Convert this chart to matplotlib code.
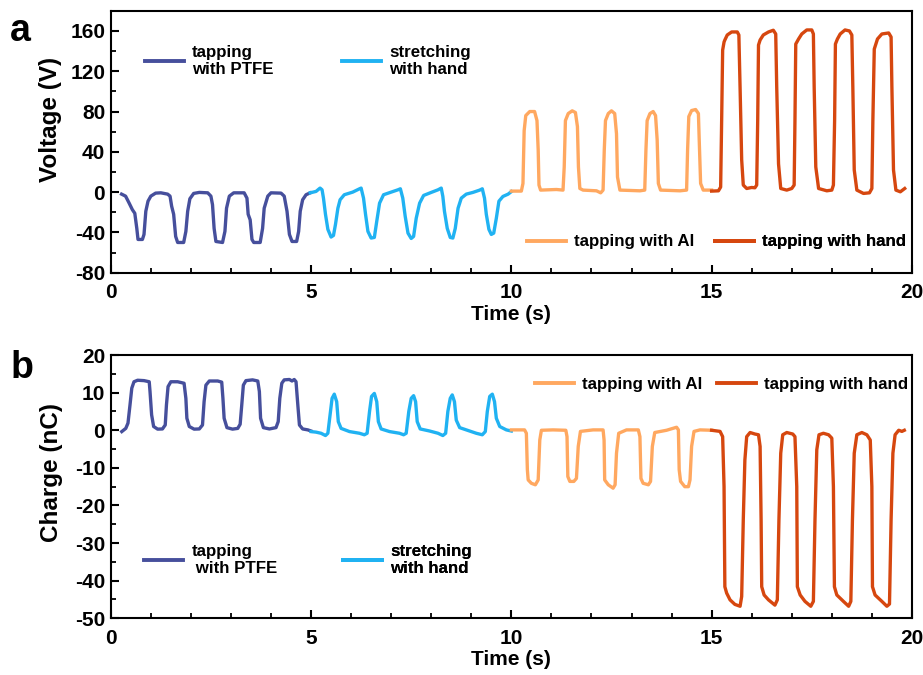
import matplotlib

matplotlib.use("Agg")
import matplotlib.pyplot as plt
from matplotlib.lines import Line2D
from matplotlib.ticker import MultipleLocator

plt.rcParams["font.family"] = ["Liberation Sans", "DejaVu Sans"]
plt.rcParams["font.weight"] = "bold"
plt.rcParams["axes.unicode_minus"] = False

# ---- colours / labels ----------------------------------------------------
c_ptfe = "#464f9c"
c_stretch = "#20b2f2"
c_al = "#ffa860"
c_hand = "#d6470f"

lab_ptfe = "tapping\nwith PTFE"
lab_ptfe_b = "tapping\n with PTFE"
lab_stretch = "stretching\nwith hand"
lab_al = "tapping with Al"
lab_hand = "tapping with hand"

# ---- (a) voltage ----------------------------------------------------------
ptfe_v_t = [0.27, 0.37, 0.46, 0.54, 0.6, 0.65, 0.68, 0.79, 0.83, 0.875, 0.93, 1.0, 1.12, 1.25,
            1.42, 1.48, 1.52, 1.57, 1.62, 1.67, 1.82, 1.875, 1.92, 1.975, 2.07, 2.21, 2.42, 2.5,
            2.54, 2.58, 2.625, 2.79, 2.85, 2.89, 2.96, 3.07, 3.33, 3.4, 3.43, 3.48, 3.525, 3.57,
            3.73, 3.79, 3.83, 3.92, 4.0, 4.25, 4.33, 4.4, 4.46, 4.525, 4.64, 4.69, 4.73, 4.79,
            4.875, 4.98]
ptfe_v = [-2, -4, -11, -17.5, -21, -36, -47, -47, -42, -19, -9, -4, -1, -0.7,
          -2, -4, -14, -22, -44, -50, -50, -39, -19, -6.6, -1.3, -0.3, -0.7, -4,
          -12.5, -36, -49, -50, -39, -16, -4, -0.7, -0.7, -6, -22, -27.5, -47, -50,
          -50, -36, -16, -4, -0.7, -1, -4, -19, -42, -49, -49, -39, -19, -7.6,
          -2.6, -0.7]

stretch_v_t = [4.98, 5.125, 5.225, 5.275, 5.31, 5.36, 5.42, 5.5, 5.56, 5.61, 5.67, 5.725, 5.83,
               6.04, 6.21, 6.25, 6.31, 6.36, 6.42, 6.5, 6.58, 6.64, 6.71, 6.81, 7.0, 7.17, 7.23,
               7.29, 7.35, 7.42, 7.5, 7.56, 7.625, 7.71, 7.81, 8.0, 8.17, 8.25, 8.29, 8.33, 8.4,
               8.475, 8.54, 8.6, 8.67, 8.75, 8.875, 9.04, 9.21, 9.275, 9.33, 9.375, 9.44, 9.5,
               9.56, 9.625, 9.69, 9.79, 9.92, 10.0]
stretch_v = [-0.7, 0.7, 4, 2.3, -6, -22, -37, -44.6, -43, -32, -16, -7.6, -2.6,
             0, 3.3, 4, -6, -22, -39, -45.6, -45, -29, -11, -2.6, 0, 2.3, 3.3,
             -6, -24, -40.7, -46, -44, -26, -11, -3.3, -0.3, 2.3, 4, -4.3, -19, -36,
             -45, -45.6, -36, -16, -6, -2, -0.3, 2, 3.3, -6, -22, -37, -42,
             -40.7, -26, -9, -4.3, -2, 0.5]

al_v_t = [10.0, 10.25, 10.29, 10.32, 10.36, 10.46, 10.58, 10.64, 10.67, 10.69, 10.73, 11.125,
          11.29, 11.32, 11.35, 11.42, 11.52, 11.6, 11.65, 11.675, 11.71, 11.79, 12.125, 12.23,
          12.29, 12.32, 12.35, 12.42, 12.5, 12.58, 12.625, 12.65, 12.71, 13.21, 13.33, 13.36,
          13.39, 13.46, 13.54, 13.6, 13.64, 13.67, 13.725, 14.21, 14.375, 14.4, 14.43, 14.5,
          14.6, 14.67, 14.69, 14.725, 14.79, 15.0]
al_v = [1, 1, 8.6, 61, 76, 80, 80, 71, 42, 7, 2, 2.6,
        2, 25, 71, 78, 80.7, 79, 65, 25, 3.6, 2, 1.3, -0.7,
        2, 42, 71, 78, 80.7, 78, 58, 15, 2, 1.3, 2, 42,
        71, 78, 80, 76, 52, 8.6, 2, 1.3, 2, 42, 75, 81,
        82, 78, 52, 8.6, 2, 2]

hand_v_t = [15.0, 15.17, 15.225, 15.25, 15.275, 15.31, 15.33, 15.39, 15.5, 15.64, 15.68, 15.71,
            15.75, 15.79, 15.875, 16.0, 16.08, 16.125, 16.15, 16.17, 16.21, 16.29, 16.42, 16.54,
            16.6, 16.625, 16.67, 16.725, 16.875, 17.0, 17.06, 17.08, 17.1, 17.17, 17.25, 17.375,
            17.5, 17.54, 17.56, 17.6, 17.67, 17.875, 18.0, 18.04, 18.07, 18.09, 18.14, 18.21,
            18.33, 18.44, 18.5, 18.525, 18.56, 18.625, 18.79, 18.94, 19.0, 19.025, 19.06, 19.1,
            19.14, 19.25, 19.42, 19.48, 19.5, 19.54, 19.6, 19.71, 19.82]
hand_v = [1, 1.3, 5, 71, 141, 149, 151, 156, 159, 159, 156, 104,
          32, 7, 3.6, 4.6, 4.3, 7, 71, 146, 151, 156, 159, 160.7,
          157, 104, 28, 3.6, 2, 3.6, 7, 71, 147, 152, 157, 161,
          161, 157, 104, 25, 3.6, 1.3, 2, 7, 71, 147, 152, 157,
          161, 160, 156, 104, 22, 2, -1.3, -0.7, 3.6, 71, 142, 147,
          152, 157, 158, 154, 104, 22, 2, 0.3, 3.6]

# ---- (b) charge ----------------------------------------------------------
ptfe_q_t = [0.275, 0.375, 0.43, 0.48, 0.525, 0.58, 0.67, 0.83, 0.96, 0.98, 1.02, 1.07, 1.17,
            1.29, 1.36, 1.39, 1.43, 1.5, 1.67, 1.83, 1.875, 1.9, 1.96, 2.08, 2.21, 2.29, 2.33,
            2.375, 2.46, 2.67, 2.77, 2.8, 2.83, 2.9, 3.04, 3.17, 3.23, 3.27, 3.31, 3.375, 3.54,
            3.67, 3.71, 3.74, 3.81, 3.96, 4.125, 4.18, 4.22, 4.27, 4.33, 4.46, 4.525, 4.58,
            4.625, 4.67, 4.71, 4.79, 4.92, 5.0]
ptfe_q = [-0.35, 0.5, 1.9, 6.7, 11.2, 12.9, 13.3, 13.2, 12.9, 10.3, 4.1, 1, 0.3,
          0.35, 1.4, 6.7, 11.6, 12.9, 12.9, 12.5, 8.5, 3.2, 1, 0.3, 0.35, 1.4, 7.6,
          12, 13.1, 13.1, 12.8, 8.5, 3.2, 0.7, 0.3, 0.5, 1.6, 6.7, 12, 13.2, 13.4,
          13.1, 10.3, 3.2, 0.7, 0.35, 0.7, 2.3, 8.5, 12.5, 13.4, 13.5, 13.1, 13.5,
          12.9, 6.7, 1.4, 0.35, 0.1, -0.2]

stretch_q_t = [5.0, 5.125, 5.25, 5.36, 5.42, 5.475, 5.525, 5.58, 5.64, 5.68, 5.75, 5.96, 6.21,
               6.33, 6.4, 6.46, 6.51, 6.58, 6.64, 6.68, 6.75, 6.96, 7.21, 7.31, 7.375, 7.44,
               7.5, 7.56, 7.61, 7.65, 7.725, 7.96, 8.17, 8.29, 8.36, 8.415, 8.475, 8.525, 8.58,
               8.625, 8.71, 8.875, 9.125, 9.275, 9.35, 9.4, 9.46, 9.525, 9.58, 9.625, 9.71,
               9.875, 10.0]
stretch_q = [-0.35, -0.5, -0.8, -1.4, -0.8, 4.1, 8.5, 9.6, 7.6, 2.3, 0.5, -0.35, -0.8,
             -1.2, -0.8, 5, 9, 9.8, 7.6, 2.3, 0.35, -0.35, -0.8, -1.2, -0.8, 5,
             8.5, 9.2, 7.6, 2.3, 0.35, -0.2, -0.8, -1.4, -0.8, 5, 8.5, 9.4, 7.6,
             2.7, 0.7, 0.1, -0.8, -1.2, -0.35, 5, 9, 9.6, 7.6, 3.2, 1,
             0.1, -0.2]

al_q_t = [10.0, 10.33, 10.375, 10.4, 10.42, 10.5, 10.6, 10.67, 10.71, 10.75, 11.04, 11.36,
          11.39, 11.41, 11.46, 11.56, 11.625, 11.67, 11.725, 12.04, 12.29, 12.315, 12.33, 12.42,
          12.54, 12.59, 12.625, 12.68, 12.875, 13.17, 13.21, 13.235, 13.29, 13.42, 13.475,
          13.52, 13.58, 13.875, 14.125, 14.17, 14.19, 14.225, 14.33, 14.42, 14.46, 14.5,
          14.56, 14.71, 15.0]
al_q = [0.1, 0.1, -0.8, -10.5, -13.2, -14.1, -14.5, -13.2, -2.6, 0, 0.1, 0,
        -1.7, -12.3, -13.6, -13.6, -12.8, -4.3, -0.3, 0.1, 0.1, -2.6, -13.2, -14.5,
        -15.4, -14.5, -6.1, -0.8, 0.1, 0.1, -1.7, -12.8, -14.1, -14.5, -13.6,
        -4.3, -0.6, 0, 0.8, 0.1, -10.5, -13.6, -15, -15, -13.2, -4.3,
        -0.3, 0.1, 0]

hand_q_t = [15.0, 15.21, 15.275, 15.31, 15.33, 15.375, 15.46, 15.58, 15.71, 15.75, 15.79, 15.83,
            15.875, 15.96, 16.08, 16.17, 16.21, 16.235, 16.25, 16.31, 16.42, 16.58, 16.64, 16.68,
            16.725, 16.775, 16.875, 17.025, 17.08, 17.125, 17.14, 17.21, 17.33, 17.475, 17.54,
            17.58, 17.625, 17.68, 17.79, 17.92, 18.0, 18.04, 18.065, 18.125, 18.29, 18.42,
            18.475, 18.515, 18.56, 18.625, 18.75, 18.875, 18.96, 19.0, 19.015, 19.08, 19.25,
            19.375, 19.44, 19.48, 19.525, 19.58, 19.67, 19.75, 19.81]
hand_q = [0, -0.3, -1.7, -15, -41.6, -43.3, -45.1, -46.3, -46.8, -44.2, -23.8, -7.9,
          -1.7, -0.6, -1, -1.2, -4.3, -23.8, -41.6, -43.8, -45.1, -46.5, -45.1, -23.8,
          -6.1, -1.2, -0.6, -1, -1.7, -15, -41.6, -43.8, -45.5, -46.8, -45.5,
          -23.8, -5.2, -1.2, -0.8, -1.2, -2.1, -15, -41.6, -43.8, -45.5, -46.8,
          -45.5, -23.8, -6.1, -1.2, -0.6, -1.2, -2.6, -15, -41.6, -43.8, -45.5,
          -46.8, -46.2, -23.8, -6.1, -1.2, 0, -0.3, 0]

# ---- plot -----------------------------------------------------------------
fig = plt.figure(figsize=(9.23, 6.75), dpi=100)
ax_a = fig.add_axes([0.120, 0.596, 0.868, 0.388])
ax_b = fig.add_axes([0.120, 0.084, 0.868, 0.390])

lw = 2.4
ax_a.plot(ptfe_v_t, ptfe_v, color=c_ptfe, lw=lw)
ax_a.plot(stretch_v_t, stretch_v, color=c_stretch, lw=lw)
ax_a.plot(al_v_t, al_v, color=c_al, lw=lw)
ax_a.plot(hand_v_t, hand_v, color=c_hand, lw=lw)

ax_b.plot(ptfe_q_t, ptfe_q, color=c_ptfe, lw=lw)
ax_b.plot(stretch_q_t, stretch_q, color=c_stretch, lw=lw)
ax_b.plot(al_q_t, al_q, color=c_al, lw=lw)
ax_b.plot(hand_q_t, hand_q, color=c_hand, lw=lw)

ax_a.set_ylim(-80, 180)
ax_a.set_yticks([-80, -40, 0, 40, 80, 120, 160])
ax_a.yaxis.set_minor_locator(MultipleLocator(20))
ax_a.set_ylabel("Voltage (V)", fontsize=17.5, fontweight="bold")
ax_a.yaxis.set_label_coords(-0.061, 0.585)

ax_b.set_ylim(-50, 20)
ax_b.set_yticks([-50, -40, -30, -20, -10, 0, 10, 20])
ax_b.yaxis.set_minor_locator(MultipleLocator(5))
ax_b.set_ylabel("Charge (nC)", fontsize=17.5, fontweight="bold")
ax_b.yaxis.set_label_coords(-0.060, 0.552)

for ax in (ax_a, ax_b):
    ax.set_xlim(0, 20)
    ax.set_xticks([0, 5, 10, 15, 20])
    ax.xaxis.set_minor_locator(MultipleLocator(1))
    ax.set_xlabel("Time (s)", fontsize=15, fontweight="bold", labelpad=2)
    ax.tick_params(which="major", direction="in", length=6, width=1.5, labelsize=15, pad=4)
    ax.tick_params(axis="x", which="major", pad=7.5)
    ax.tick_params(which="minor", direction="in", length=3.5, width=1.3)
    ax.tick_params(top=False, right=False, which="both")
    for lab in ax.get_xticklabels() + ax.get_yticklabels():
        lab.set_fontweight("bold")
    for sp in ax.spines.values():
        sp.set_linewidth(1.5)


def add_entry(ax, label, color, x, y):
    h = Line2D([], [], color=color, lw=2.8)
    leg = ax.legend([h], [label], loc="upper left", bbox_to_anchor=(x, y),
                    frameon=False, borderpad=0, borderaxespad=0, handlelength=2.3,
                    handletextpad=0.47, prop={"size": 12.2, "weight": "bold"})
    ax.add_artist(leg)


add_entry(ax_a, lab_ptfe, c_ptfe, 0.043, 0.870)
add_entry(ax_a, lab_stretch, c_stretch, 0.289, 0.870)
add_entry(ax_a, lab_al, c_al, 0.519, 0.146)
add_entry(ax_a, lab_hand, c_hand, 0.754, 0.146)

add_entry(ax_b, lab_al, c_al, 0.529, 0.918)
add_entry(ax_b, lab_hand, c_hand, 0.757, 0.918)
add_entry(ax_b, lab_ptfe_b, c_ptfe, 0.042, 0.282)
add_entry(ax_b, lab_stretch, c_stretch, 0.290, 0.282)

fig.text(0.011, 0.939, "a", fontsize=27, fontweight="bold", va="baseline")
fig.text(0.011, 0.440, "b", fontsize=27, fontweight="bold", va="baseline")

fig.savefig("out.png", dpi=100)
